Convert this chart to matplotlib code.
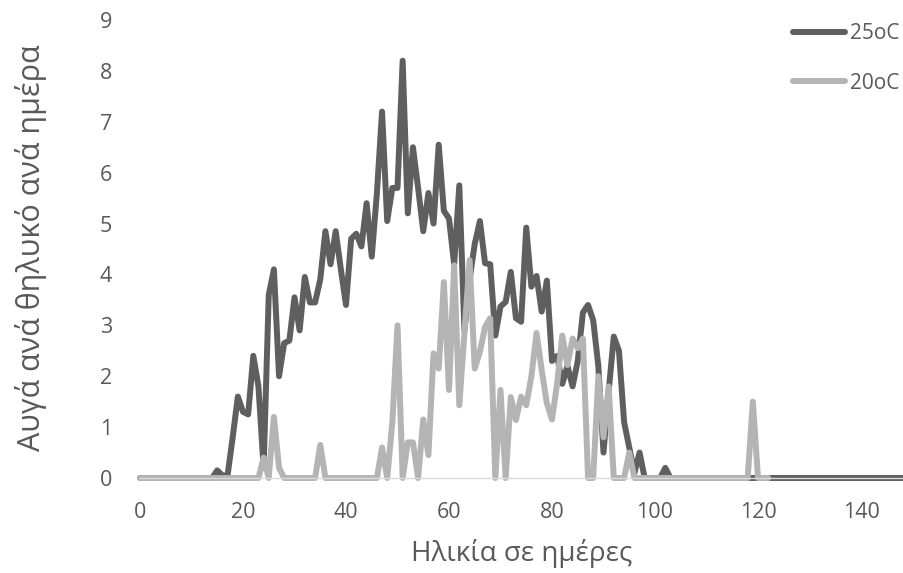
import matplotlib

matplotlib.use("Agg")
import matplotlib.pyplot as plt


# Ημέρες (x) και αυγά ανά θηλυκό ανά ημέρα για τις δύο θερμοκρασίες
days_25 = list(range(0, 151))
eggs_25 = (
    [0] * 15
    + [0.15, 0.05, 0.05, 0.8, 1.6, 1.3, 1.25, 2.4, 1.8, 0.2,
       3.6, 4.1, 2.0, 2.65, 2.7, 3.55, 2.9, 3.95, 3.45, 3.45,
       3.9, 4.85, 4.2, 4.85, 4.1, 3.4, 4.7, 4.8, 4.55, 5.4,
       4.35, 5.6, 7.2, 5.05, 5.7, 5.7, 8.2, 5.2, 6.5, 5.7,
       4.85, 5.6, 5.0, 6.55, 5.25, 5.1, 4.2, 5.75, 2.9, 3.9,
       4.6, 5.05, 4.22, 4.2, 2.8, 3.37, 3.46, 4.05, 3.14, 3.07,
       4.92, 3.76, 3.97, 3.27, 3.88, 2.3, 2.4, 1.85, 2.2, 1.8,
       2.3, 3.25, 3.4, 3.1, 2.2, 0.5, 1.7, 2.78, 2.5, 1.1,
       0.6, 0.1, 0.5, 0, 0, 0, 0, 0.2]
    + [0] * 48
)

days_20 = list(range(0, 123))
eggs_20 = (
    [0] * 24
    + [0.4, 0, 1.2, 0.2, 0, 0, 0, 0, 0, 0,
       0, 0.65, 0, 0, 0, 0, 0, 0, 0, 0,
       0, 0, 0, 0.6, 0, 1.1, 3.0, 0, 0.7, 0.7,
       0, 1.15, 0.45, 2.45, 2.15, 3.85, 1.73, 4.18, 1.43, 2.85,
       4.28, 2.15, 2.48, 2.97, 3.14, 0, 1.73, 0, 1.59, 1.14,
       1.6, 1.43, 2.0, 2.85, 2.12, 1.47, 1.15, 1.86, 2.8, 2.22,
       2.74, 2.55, 2.74, 0, 0, 2.0, 0.8, 1.8, 0, 0,
       0, 0.5]
    + [0] * 23
    + [1.5, 0, 0, 0]
)

x_ticks = [0, 20, 40, 60, 80, 100, 120, 140]
y_ticks = list(range(0, 10))

TEXT_COLOR = "#595959"
plt.rcParams["font.family"] = ["Open Sans", "DejaVu Sans"]

fig = plt.figure(figsize=(9.04, 5.73), dpi=100)
ax = fig.add_axes([140 / 904, 95 / 573, 764 / 904, 458 / 573])

# οι γραμμές δεν κόβονται στον άξονα (όπως στο Excel), μόνο στην άκρη της εικόνας
line_style = {"linewidth": 4.3, "solid_joinstyle": "round", "solid_capstyle": "round", "clip_on": False}
ax.plot(days_25, eggs_25, color="#5f5f5f", label="25oC", **line_style)
ax.plot(days_20, eggs_20, color="#b4b4b4", label="20oC", **line_style)

ax.set_xlim(0, 148.35)
ax.set_ylim(0, 9)
ax.set_xticks(x_ticks)
ax.set_yticks(y_ticks)
ax.tick_params(axis="both", length=0, labelsize=15.5, labelcolor=TEXT_COLOR)
ax.tick_params(axis="x", pad=17)
ax.tick_params(axis="y", pad=20)

for side in ("top", "right", "left"):
    ax.spines[side].set_visible(False)
ax.spines["bottom"].set_color("#d9d9d9")
ax.spines["bottom"].set_linewidth(1)

ax.set_xlabel("Ηλικία σε ημέρες", fontsize=20, color=TEXT_COLOR)
ax.set_ylabel("Αυγά ανά θηλυκό ανά ημέρα", fontsize=22, color=TEXT_COLOR)
ax.xaxis.set_label_coords(0.5, -0.133)
ax.yaxis.set_label_coords(-0.122, 0.502)

ax.legend(
    loc="upper left",
    bbox_to_anchor=(783 / 904, 1 - 13 / 573),
    bbox_transform=fig.transFigure,
    frameon=False,
    fontsize=15,
    labelcolor=TEXT_COLOR,
    handlelength=2.5,
    handletextpad=0.2,
    labelspacing=1.35,
    borderpad=0,
)

fig.savefig("out.png", dpi=100)
plt.close(fig)
